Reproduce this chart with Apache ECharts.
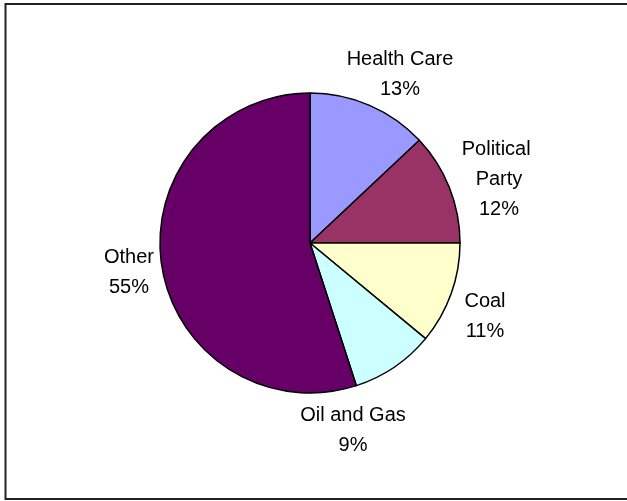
<!DOCTYPE html>
<html>
<head>
<meta charset="utf-8">
<script src="https://cdn.jsdelivr.net/npm/echarts@6/dist/echarts.min.js"></script>
<style>
html,body{margin:0;padding:0;background:#fff;}
#c{width:627px;height:501px;}
</style>
</head>
<body>
<div id="c"></div>
<script>
var categories = ["Health Care", "Political Party", "Coal", "Oil and Gas", "Other"];
var values = [13, 12, 11, 9, 55];
var colors = ["#9999FF", "#993366", "#FFFFCC", "#CCFFFF", "#660066"];
// label anchor positions (layout only)
var labelPos = [[400, 74], [499, 179], [485, 316], [353, 430], [129, 272]];
// label wrap widths (layout only)
var labelWidth = [200, 100, 200, 200, 200];

var chart = echarts.init(document.getElementById('c'), null, {renderer: 'canvas'});
var data = categories.map(function (c, i) {
  return {
    name: c, value: values[i], itemStyle: {color: colors[i]},
    label: {width: labelWidth[i], overflow: 'break'}
  };
});
chart.setOption({
  animation: false,
  backgroundColor: '#ffffff',
  graphic: [{
    type: 'rect',
    shape: {x: 5.5, y: 4, width: 630, height: 495},
    style: {fill: 'none', stroke: '#222', lineWidth: 2}
  }],
  series: [{
    type: 'pie',
    center: [310, 243],
    radius: [0, 150],
    startAngle: 90,
    clockwise: true,
    avoidLabelOverlap: false,
    data: data,
    itemStyle: {borderColor: '#000', borderWidth: 1.5},
    label: {
      show: true,
      position: 'outside',
      color: '#000',
      fontFamily: 'Liberation Sans, Arial, sans-serif',
      fontSize: 20,
      lineHeight: 30,
      align: 'center',
      formatter: function (p) { return p.name + '\n' + Math.round(p.percent) + '%'; }
    },
    labelLine: {show: false},
    labelLayout: function (p) {
      var pos = labelPos[p.dataIndex];
      return {x: pos[0], y: pos[1], align: 'center', verticalAlign: 'middle'};
    },
    emphasis: {disabled: true}
  }]
});
</script>
</body>
</html>
